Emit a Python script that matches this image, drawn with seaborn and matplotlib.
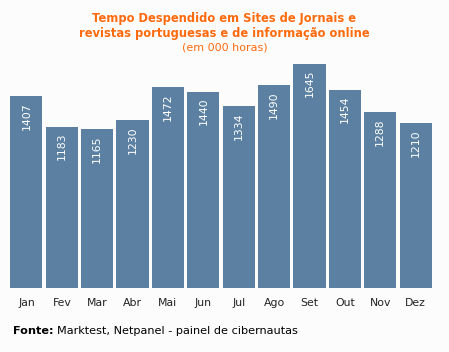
import matplotlib
matplotlib.use("Agg")
import matplotlib.pyplot as plt
import pandas as pd
import seaborn as sns

MONTHS = ["Jan", "Fev", "Mar", "Abr", "Mai", "Jun", "Jul", "Ago", "Set", "Out", "Nov", "Dez"]
HOURS = [1407, 1183, 1165, 1230, 1472, 1440, 1334, 1490, 1645, 1454, 1288, 1210]

TITLE = "Tempo Despendido em Sites de Jornais e\nrevistas portuguesas e de informação online"
SUBTITLE = "(em 000 horas)"

BG = "#fcfcfc"
BAR = "#5b80a1"
ORANGE = "#ff6a0d"

W, H = 449, 352


def main():
    sns.set_theme(style="white")
    plt.rcParams["font.family"] = ["DejaVu Sans"]
    df = pd.DataFrame({"month": MONTHS, "hours": HOURS})

    fig = plt.figure(figsize=(W / 100, H / 100), dpi=100, facecolor=BG)
    left, right, top, bottom = 8.7, 433.3, 50, 288
    ax = fig.add_axes([left / W, 1 - bottom / H, (right - left) / W, (bottom - top) / H])
    ax.set_facecolor(BG)

    sns.barplot(data=df, x="month", y="hours", color=BAR, width=0.91,
                saturation=1, ax=ax, linewidth=0)
    ymax = (bottom - top) / 0.1363
    ax.set_ylim(0, ymax)
    ax.set_xlim(-0.5, len(MONTHS) - 0.5)

    px = ymax / (bottom - top)
    for i, v in enumerate(HOURS):
        ax.text(i, v - 6 * px, str(v), rotation=90, ha="center", va="top",
                color="white", fontsize=7.8)

    for s in ax.spines.values():
        s.set_visible(False)
    ax.set_yticks([])
    ax.set_xlabel("")
    ax.set_ylabel("")
    ax.tick_params(axis="x", length=0, pad=7, labelsize=7.8, colors="#222222")

    fig.text(0.5, 1 - 26 / H, TITLE, ha="center", va="center", color=ORANGE,
             fontsize=8.3, fontweight="bold", linespacing=1.2)
    fig.text(0.5, 1 - 47 / H, SUBTITLE, ha="center", va="center", color=ORANGE,
             fontsize=8)
    fig.text(13 / W, 1 - 331 / H, "Fonte:", ha="left", va="center",
             fontsize=8.1, fontweight="bold", color="black")
    fig.text(57 / W, 1 - 331 / H, "Marktest, Netpanel - painel de cibernautas",
             ha="left", va="center", fontsize=8.1, color="black")

    fig.savefig("out.png", dpi=100, facecolor=BG)
    plt.close(fig)


if __name__ == "__main__":
    main()
